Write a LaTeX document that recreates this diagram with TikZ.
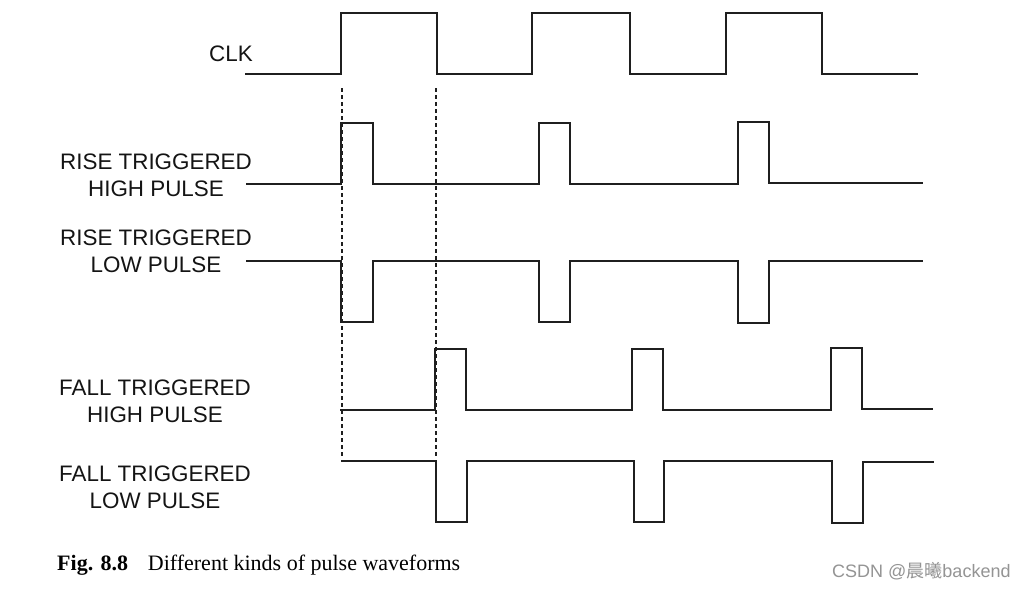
\documentclass[tikz,border=0pt]{standalone}
\usepackage{fontspec}
\setmainfont{Liberation Sans}
\newfontfamily\capfont{Liberation Serif}
\newfontfamily\cjkfont{Noto Sans CJK SC}
\begin{document}
\begin{tikzpicture}[x=1pt,y=-1pt,
  wave/.style={line width=2.6pt,line join=miter,color=black!88},
  guide/.style={line width=1.8pt,dash pattern=on 4pt off 3pt,color=black!88},
  lbl/.style={font=\fontsize{22.4}{27}\selectfont,align=center,inner sep=0pt,text=black!92}]
\useasboundingbox[fill=white] (0,0) rectangle (1024,589);
% labels
\node[lbl,anchor=east] (clk) at (253,54) {CLK};
\node[lbl] (rhp) at (156,175.5) {RISE TRIGGERED\\HIGH PULSE};
\node[lbl] (rlp) at (156,251.5) {RISE TRIGGERED\\LOW PULSE};
\node[lbl] (fhp) at (155,401) {FALL TRIGGERED\\HIGH PULSE};
\node[lbl] (flp) at (155,487.5) {FALL TRIGGERED\\LOW PULSE};
% CLK
\draw[wave] (245,74) -- (341,74) -- (341,13) -- (437,13) -- (437,74) -- (532,74) -- (532,13) -- (630,13) -- (630,74) -- (726,74) -- (726,13) -- (822,13) -- (822,74) -- (918,74);
% rise triggered high pulse
\draw[wave] (246,184) -- (341,184) -- (341,123) -- (373,123) -- (373,184) -- (539,184) -- (539,123) -- (570,123) -- (570,184) -- (738,184) -- (738,122) -- (769,122) -- (769,183) -- (923,183);
% rise triggered low pulse
\draw[wave] (246,261) -- (341,261) -- (341,322) -- (373,322) -- (373,261) -- (539,261) -- (539,322) -- (570,322) -- (570,261) -- (738,261) -- (738,323) -- (769,323) -- (769,261) -- (923,261);
% fall triggered high pulse
\draw[wave] (340,410) -- (435,410) -- (435,349) -- (466,349) -- (466,410) -- (632,410) -- (632,349) -- (663,349) -- (663,410) -- (831,410) -- (831,348) -- (862,348) -- (862,409) -- (933,409);
% fall triggered low pulse
\draw[wave] (341,461) -- (436,461) -- (436,522) -- (467,522) -- (467,461) -- (634,461) -- (634,522) -- (664,522) -- (664,461) -- (832,461) -- (832,523) -- (863,523) -- (863,462) -- (934,462);
% dashed guides
\coordinate (g1t) at (342,88); \coordinate (g1b) at (342,456);
\coordinate (g2t) at (436,88); \coordinate (g2b) at (436,456);
\draw[guide] (g1t) -- (g1b);
\draw[guide] (g2t) -- (g2b);
% caption
\node[anchor=base west,inner sep=0pt,font=\capfont\fontsize{22}{26}\selectfont] (cap) at (57,570) {\textbf{Fig. 8.8}\hspace{0.9em}Different kinds of pulse waveforms};
% watermark
\node[anchor=base west,inner sep=0pt,text=black!42,font=\fontsize{18}{20}\selectfont] (wm) at (832,577) {CSDN @{\cjkfont 晨曦}backend};
\end{tikzpicture}
\end{document}
